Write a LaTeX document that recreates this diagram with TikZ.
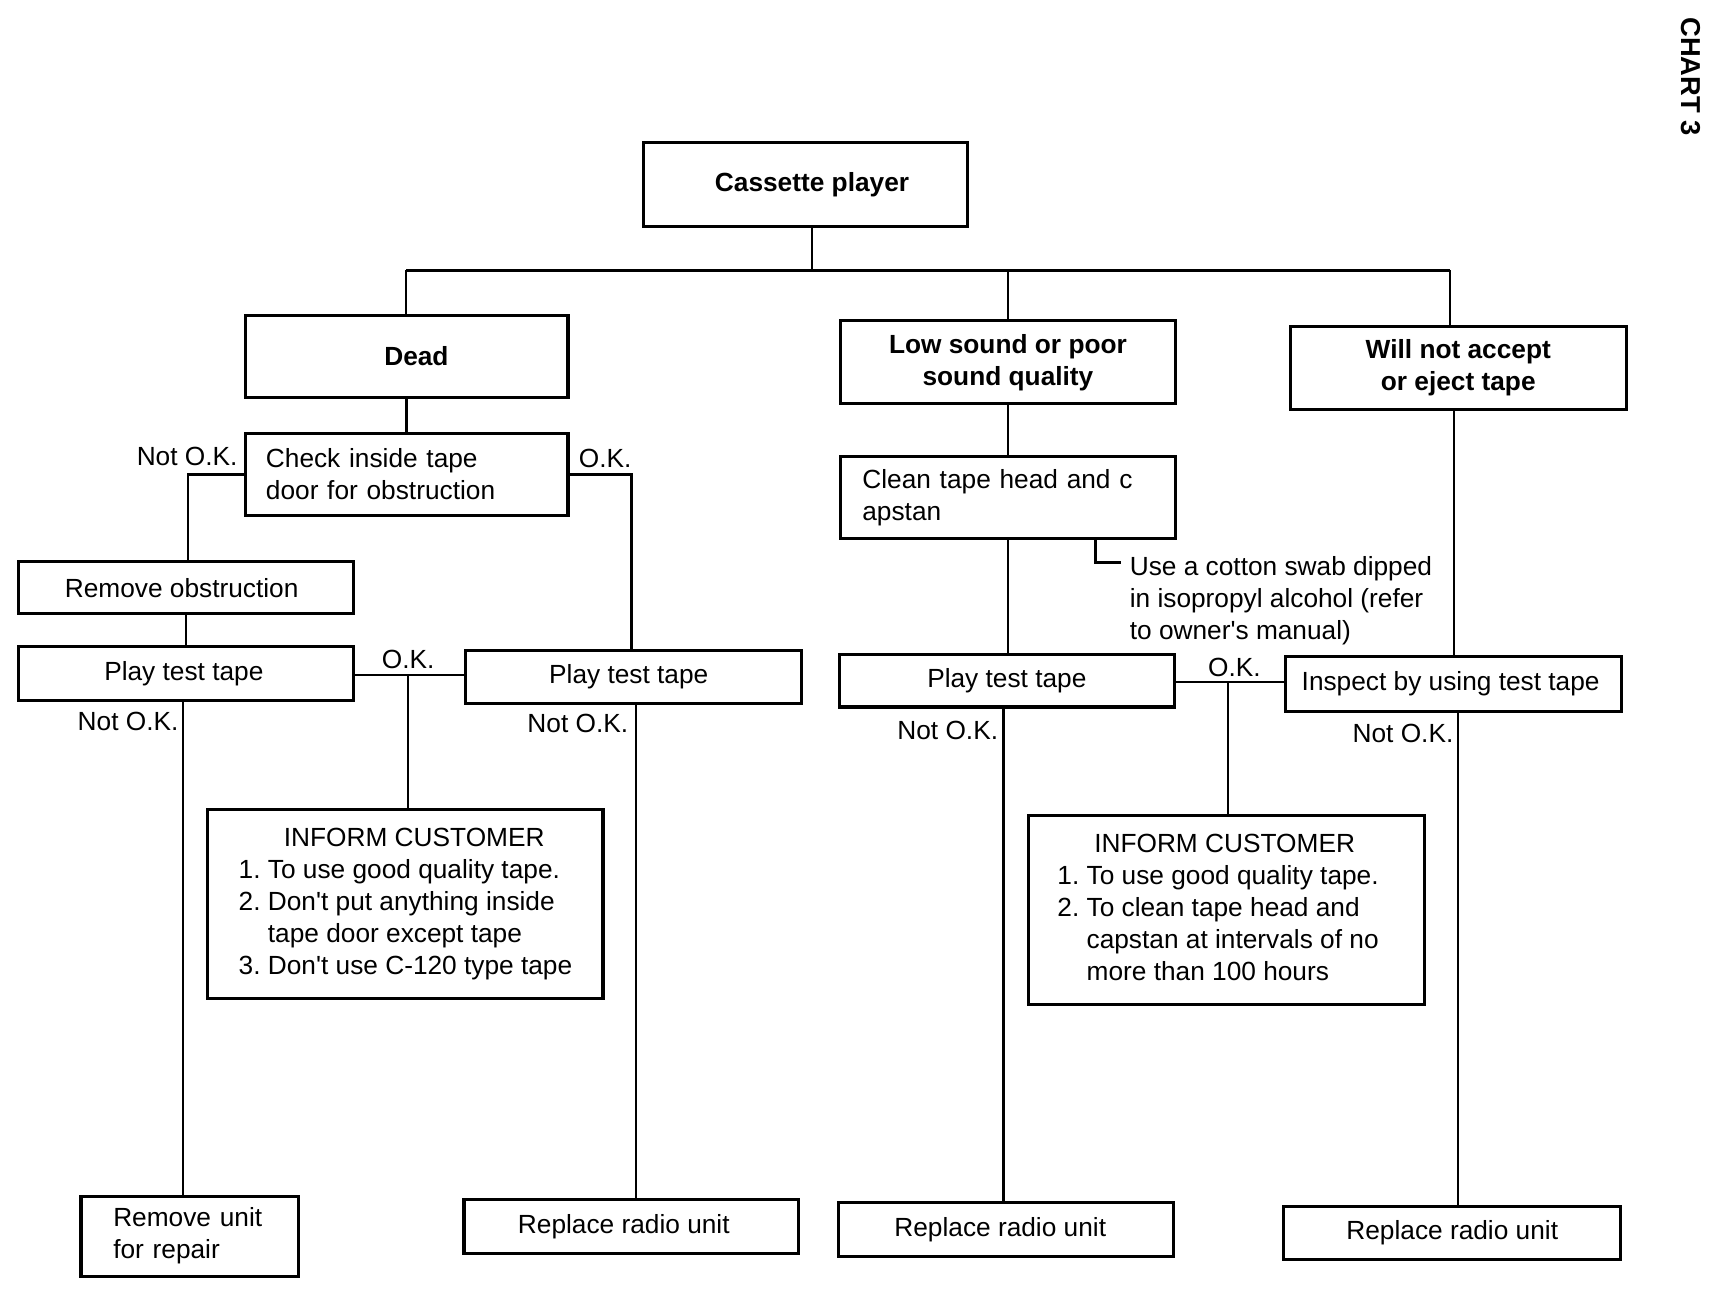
\documentclass[tikz,border=0pt]{standalone}
\usepackage{fontspec}
\setmainfont{Liberation Sans}
\begin{document}
\begin{tikzpicture}[x=0.5pt,y=-0.5pt,
  txt/.style={font=\fontsize{12}{14.6}\selectfont, inner sep=0pt},
  box/.style={txt, draw, line width=1.4pt, align=center},
  lbox/.style={box, align=left},
  conn/.style={line width=1.1pt},
  lbl/.style={txt}]
\useasboundingbox (0,0) rectangle (1568,1199);

% chart title
\node[txt, font=\fontsize{12.5}{15}\selectfont\bfseries, rotate=-90] (chart) at (1545,70) {CHART 3};

% top level
\node[box, font=\fontsize{12}{14.6}\selectfont\bfseries, minimum width=148pt, minimum height=38.5pt] (cas) at (736,168.5) {\hspace*{6pt}Cassette player};
\node[box, font=\fontsize{12}{14.6}\selectfont\bfseries, minimum width=147.5pt, minimum height=37.5pt] (dead) at (371.5,325.5) {\hspace*{9pt}Dead};
\node[box, font=\fontsize{12}{14.6}\selectfont\bfseries, minimum width=153pt, minimum height=38pt] (low) at (921,331) {Low sound or poor\\sound quality};
\node[box, font=\fontsize{12}{14.6}\selectfont\bfseries, minimum width=153.5pt, minimum height=38pt] (will) at (1332.5,336) {Will not accept\\or eject tape};

% left branch
\node[lbox, text width=128.5pt, inner xsep=9.5pt, minimum height=37.5pt] (check) at (371.5,433.5) {Check inside tape\\door for obstruction};
\node[box, minimum width=153pt, minimum height=24pt] (remobs) at (170,537) {Remove obstruction\hspace*{4pt}};
\node[box, minimum width=153pt, minimum height=24.5pt] (ptt1) at (170,615.5) {Play test tape\hspace*{2pt}};
\node[box, minimum width=153.5pt, minimum height=24.5pt] (ptt2) at (578.5,618.5) {Play test tape\hspace*{4pt}};
\node[box, minimum width=180.5pt, minimum height=86pt] (inf1) at (370.5,826) {%
  \begin{tabular}{@{}l@{\ }l@{}}
  \multicolumn{2}{c}{\hspace*{8pt}INFORM CUSTOMER}\\
  1. & To use good quality tape.\\
  2. & Don\textquotesingle t put anything inside\\
     & tape door except tape\\
  3. & Don\textquotesingle t use C-120 type tape
  \end{tabular}};
\node[lbox, text width=70pt, inner xsep=14.75pt, minimum height=36.5pt] (remunit) at (173.5,1129.5) {Remove unit\\for repair};
\node[box, minimum width=153pt, minimum height=24.5pt] (rep1) at (577,1120.5) {Replace radio unit\hspace*{7pt}};

% middle branch
\node[lbox, text width=133pt, inner xsep=10pt, minimum height=37.5pt] (clean) at (921,454.5) {Clean tape head and c\\apstan};
\node[txt, anchor=west, align=left] (note) at (1032,549) {Use a cotton swab dipped\\in isopropyl alcohol (refer\\to owner\textquotesingle s manual)};
\node[box, minimum width=153pt, minimum height=24pt] (ptt3) at (920,622) {Play test tape};
\node[box, minimum width=153.5pt, minimum height=25pt] (insp) at (1328.5,625) {Inspect by using test tape\hspace*{3pt}};
\node[box, minimum width=181pt, minimum height=86.5pt] (inf2) at (1121,831.5) {%
  \begin{tabular}{@{}l@{\ }l@{}}
  \multicolumn{2}{c}{\hspace*{6pt}INFORM CUSTOMER}\\
  1. & To use good quality tape.\\
  2. & To clean tape head and\\
     & capstan at intervals of no\\
     & more than 100 hours
  \end{tabular}\hspace*{8pt}};
\node[box, minimum width=153pt, minimum height=24.5pt] (rep2) at (919,1123.5) {Replace radio unit\hspace*{5pt}};
\node[box, minimum width=154pt, minimum height=24.5pt] (rep3) at (1327,1126.5) {Replace radio unit};

% labels
\node[lbl] (l1) at (171,417) {Not O.K.};
\node[lbl] (l2) at (553,419) {O.K.};
\node[lbl] (l3) at (373,603) {O.K.};
\node[lbl] (l4) at (117,659) {Not O.K.};
\node[lbl] (l5) at (528,661) {Not O.K.};
\node[lbl] (l6) at (1128,610) {O.K.};
\node[lbl] (l7) at (866,667) {Not O.K.};
\node[lbl] (l8) at (1282,670) {Not O.K.};

% coordinates
\coordinate (bus) at (742,247);
\coordinate (bL) at (371,247);
\coordinate (bR) at (1325,247);
\coordinate (ok1) at (373,617);
\coordinate (ok2) at (1122,623);
\coordinate (nx) at (1001,0);
\coordinate (nt) at (1024,514);

% connectors
\draw[conn] (cas.south -| bus) -- (bus);
\draw[conn] (bL) -- (bR);
\draw[conn] (bL) -- (bL |- dead.north);
\draw[conn] (low.north |- bus) -- (low.north);
\draw[conn] (bR) -- (bR |- will.north);

\draw[conn] (dead.south) -- (check.north);
\draw[conn] (check.west) -| ([xshift=1pt]remobs.north);
\draw[conn] (check.east) -| ([xshift=-0.75pt]ptt2.north);
\draw[conn] (remobs.south) -- (ptt1.north);
\draw[conn] ([yshift=-0.75pt]ptt1.east) -- ([yshift=-0.75pt]ptt1.east -| ptt2.west);
\draw[conn] (ok1) -- (ok1 |- inf1.north);
\draw[conn] ([xshift=-1.5pt]ptt1.south) -- ([xshift=-1.5pt]ptt1.south |- remunit.north);
\draw[conn] ([xshift=1.25pt]ptt2.south) -- ([xshift=1.25pt]ptt2.south |- rep1.north);

\draw[conn] (low.south) -- (clean.north);
\draw[conn] (clean.south) -- (clean.south |- ptt3.north);
\draw[conn] (clean.south -| nx) |- (nt);
\draw[conn] ([yshift=-0.5pt]ptt3.east) -- ([yshift=-0.5pt]ptt3.east -| insp.west);
\draw[conn] (ok2) -- (ok2 |- inf2.north);
\draw[conn] (will.south -| insp.north) -- (insp.north);
\draw[conn] ([xshift=-1.5pt]ptt3.south) -- ([xshift=-1.5pt]ptt3.south |- rep2.north);
\draw[conn] ([xshift=1.75pt]insp.south) -- ([xshift=1.75pt]insp.south |- rep3.north);
\end{tikzpicture}
\end{document}
